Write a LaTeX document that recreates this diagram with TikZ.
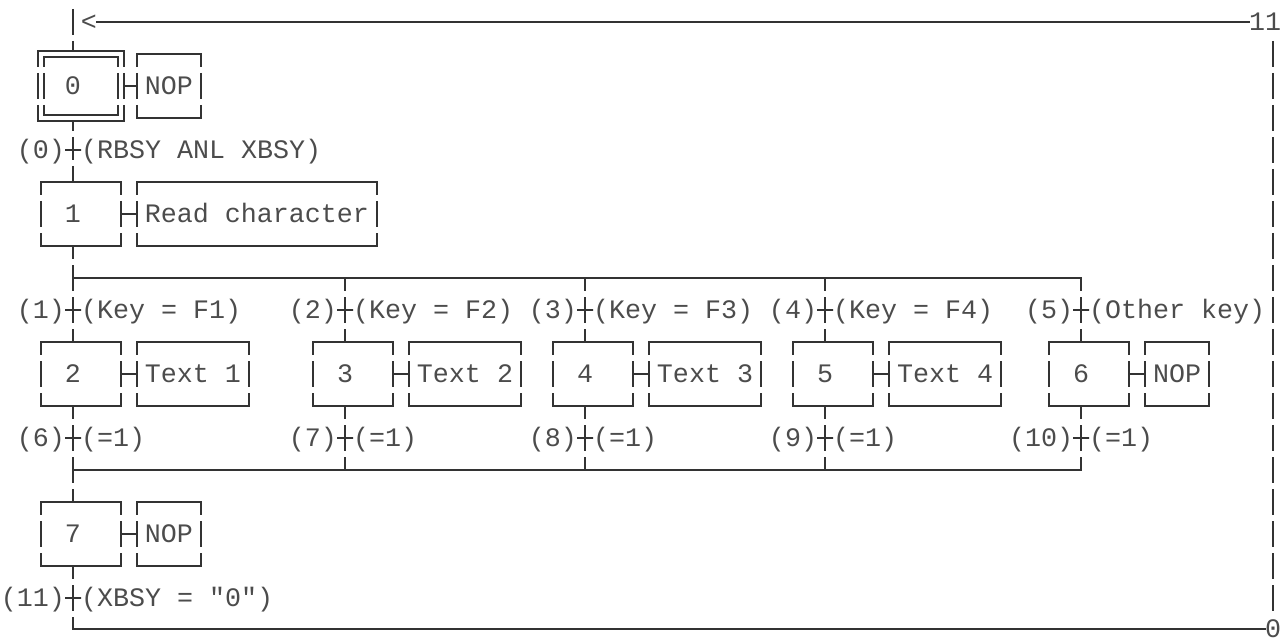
\documentclass[tikz,border=0pt]{standalone}
\usepackage{fontspec}
\newfontfamily\sfcfont{Liberation Mono}
\usetikzlibrary{positioning}
\definecolor{ink}{gray}{0.2}
\definecolor{txtgray}{gray}{0.3}

\begin{document}
\begin{tikzpicture}[x=0.4cm, y=-0.8cm, line width=1.3pt, ink, line cap=rect]
	\tikzset{
	lbl/.style={inner sep=0pt, outer sep=0pt, text=txtgray, text height=12.5pt, text depth=0pt,
		font=\sfcfont\fontsize{18.97}{22}\selectfont},
	stepbox/.style={lbl, minimum width=2cm, minimum height=1.6cm},
	actbox/.style={lbl, minimum height=1.6cm},
	tick/.style={draw, minimum width=0.4cm, minimum height=0pt, inner sep=0pt, outer sep=0pt},
	vdash/.style={line cap=butt, dash pattern=on 0.65cm off 0.15cm, dash phase=0.325cm}}

	\def\sfcbox#1#2{
		\draw (#1.north west) -- (#1.north east) (#1.south west) -- (#1.south east);
		\draw[vdash, dash phase=#2] (#1.north west) -- (#1.south west) (#1.north east) -- (#1.south east);}

	\useasboundingbox (-0.5625,-0.6875) rectangle (79.875,19.3125);

	\coordinate (top) at (4,-0.5);
	\coordinate (div) at (0,8);
	\coordinate (conv) at (0,14);
	\coordinate (rtop) at (79,0.5);
	\coordinate (rbot) at (79,18.5);

	%jump back to step 0
	\node[lbl] (lt) at (5,0) {<};
	\node[lbl] (n11) at (78.5,0) {11};
	\node[lbl] (n0) at (79,18.97) {0};

	%initial step
	\node[stepbox, minimum width=2.15cm, minimum height=1.75cm] (s0) at (4.5,2) {0\phantom{0}};
	\node[stepbox, minimum width=1.85cm, minimum height=1.45cm] (s0i) at (s0) {};
	\node[actbox, minimum width=1.6cm] (a0) at (10,2) {NOP};
	\sfcbox{s0}{0.25cm}
	\sfcbox{s0i}{0.4cm}
	\sfcbox{a0}{0.325cm}

	\node[tick] (t0) at (4,4) {};
	\node[lbl, left=0pt of t0] (n0t) {(0)};
	\node[lbl, right=0pt of t0] (c0) {(RBSY ANL XBSY)};

	\node[stepbox] (s1) at (4.5,6) {1\phantom{0}};
	\node[actbox, minimum width=6cm] (a1) at (15.5,6) {Read character};
	\sfcbox{s1}{0.325cm}
	\sfcbox{a1}{0.325cm}

	%alternative branches
	\foreach \st/\col/\cond/\act/\aw in {2/4/{(Key = F1)}/{Text 1}/7, 3/21/{(Key = F2)}/{Text 2}/7,
		4/36/{(Key = F3)}/{Text 3}/7, 5/51/{(Key = F4)}/{Text 4}/7, 6/67/{(Other key)}/NOP/4} {
		\pgfmathtruncatemacro\tup{\st-1}
		\pgfmathtruncatemacro\tdn{\st+4}
		\pgfmathsetmacro\ax{\col+4+\aw/2}
		\node[tick] (t\tup) at (\col,9) {};
		\node[lbl, left=0pt of t\tup] (n\tup) {(\tup)};
		\node[lbl, right=0pt of t\tup] (c\tup) {\cond};
		\node[stepbox] (s\st) at (\col+0.5,11) {\st\phantom{0}};
		\node[actbox, minimum width=\aw*0.4cm] (a\st) at (\ax,11) {\act};
		\node[tick] (t\tdn) at (\col,13) {};
		\node[lbl, left=0pt of t\tdn] (n\tdn) {(\tdn)};
		\node[lbl, right=0pt of t\tdn] (c\tdn) {(=1)};
		\sfcbox{s\st}{0.325cm}
		\sfcbox{a\st}{0.325cm}
		\draw (s\st) -- (a\st);
		\draw[vdash] (t\tup |- div) -- (t\tup) -- (t\tup |- s\st.north)
			(t\tdn |- s\st.south) -- (t\tdn) -- (t\tdn |- conv);
	}

	\node[stepbox] (s7) at (4.5,16) {7\phantom{0}};
	\node[actbox, minimum width=1.6cm] (a7) at (10,16) {NOP};
	\sfcbox{s7}{0.325cm}
	\sfcbox{a7}{0.325cm}

	\node[tick] (t11) at (4,18) {};
	\node[lbl, left=0pt of t11] (n11t) {(11)};
	\node[lbl, right=0pt of t11] (c11) {(XBSY = "0")};

	%links
	\draw (s0) -- (a0);
	\draw (s1) -- (a1);
	\draw (s7) -- (a7);
	\draw (t1 |- div) -- (t5 |- div);
	\draw (t6 |- conv) -- (t10 |- conv);

	\draw[vdash, dash phase=0.725cm] (top) -- (t0 |- s0.north);
	\draw[vdash, dash phase=0.4cm] (t0 |- s0.south) -- (t0) -- (t0 |- s1.north);
	\draw[vdash] (t1 |- s1.south) -- (t1 |- div);
	\draw[vdash] (t11 |- conv) -- (t11 |- s7.north)
		(t11 |- s7.south) -- (t11) -- (t11 |- n0);

	\draw (t11 |- n0) -- (n0);
	\draw (lt) -- (n11);
	\draw[vdash, dash phase=0.725cm] (rtop) -- (rbot);
\end{tikzpicture}
\end{document}
